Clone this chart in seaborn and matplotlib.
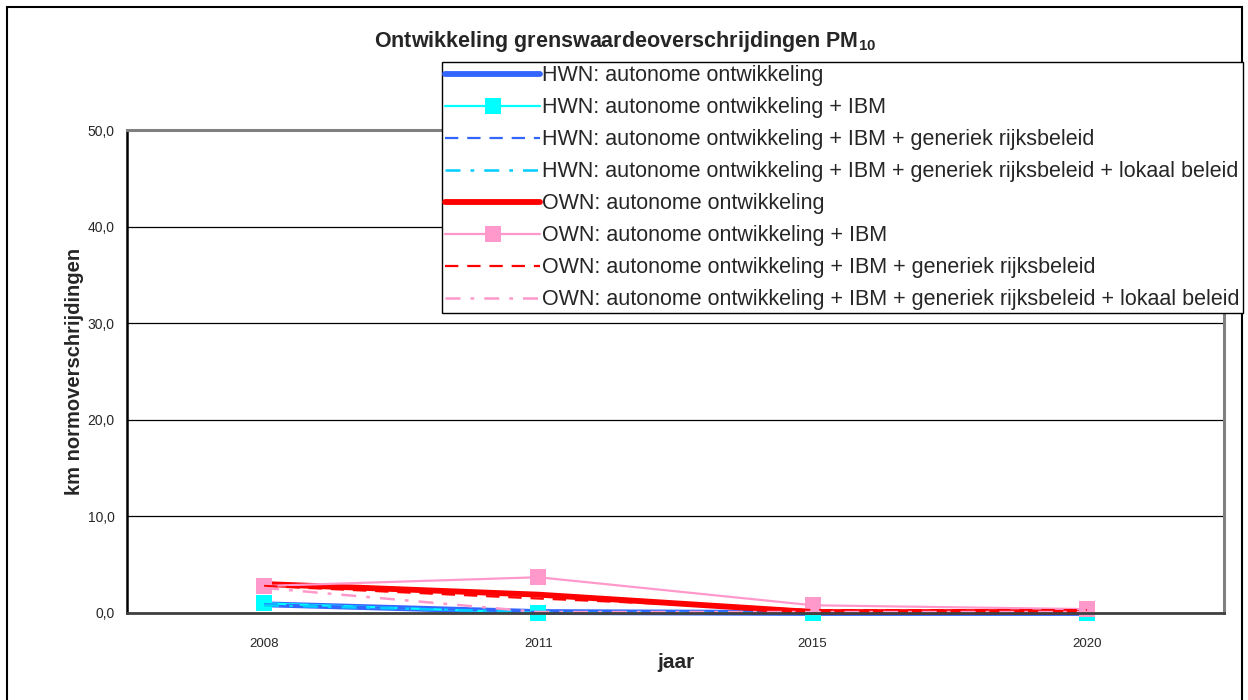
import matplotlib
matplotlib.use("Agg")
import matplotlib.pyplot as plt
from matplotlib.patches import Rectangle
import seaborn as sns
import pandas as pd

years = ["2008", "2011", "2015", "2020"]

hwn_auto = [0.9, 0.1, 0.0, 0.0]
hwn_ibm = [1.0, 0.0, 0.0, 0.0]
hwn_rijk = [0.9, 0.1, 0.0, 0.0]
hwn_lokaal = [0.8, 0.1, 0.0, 0.0]
own_auto = [3.0, 1.9, 0.1, 0.1]
own_ibm = [2.8, 3.7, 0.8, 0.4]
own_rijk = [2.8, 1.5, 0.3, 0.3]
own_lokaal = [2.6, 0.1, 0.1, 0.1]

labels = [
    "HWN: autonome ontwikkeling",
    "HWN: autonome ontwikkeling + IBM",
    "HWN: autonome ontwikkeling + IBM + generiek rijksbeleid",
    "HWN: autonome ontwikkeling + IBM + generiek rijksbeleid + lokaal beleid",
    "OWN: autonome ontwikkeling",
    "OWN: autonome ontwikkeling + IBM",
    "OWN: autonome ontwikkeling + IBM + generiek rijksbeleid",
    "OWN: autonome ontwikkeling + IBM + generiek rijksbeleid + lokaal beleid",
]
series = [hwn_auto, hwn_ibm, hwn_rijk, hwn_lokaal, own_auto, own_ibm, own_rijk, own_lokaal]

styles = [
    dict(color="#3366FF", lw=4.2, ls="-", marker=None),
    dict(color="#00FFFF", lw=1.6, ls="-", marker="s"),
    dict(color="#3366FF", lw=1.6, ls=(0, (6, 4)), marker=None),
    dict(color="#00CCFF", lw=1.8, ls=(0, (6, 4, 1.5, 4)), marker=None),
    dict(color="#FF0000", lw=4.2, ls="-", marker=None),
    dict(color="#FF99CC", lw=1.6, ls="-", marker="s"),
    dict(color="#FF0000", lw=1.6, ls=(0, (6, 4)), marker=None),
    dict(color="#FF99CC", lw=1.8, ls=(0, (6, 4, 1.5, 4)), marker=None),
]

sns.set_theme(style="white")
plt.rcParams["font.family"] = ["Liberation Sans", "DejaVu Sans"]
plt.rcParams["mathtext.fontset"] = "custom"
plt.rcParams["mathtext.rm"] = "Liberation Sans"
plt.rcParams["mathtext.bf"] = "Liberation Sans:bold"

fig = plt.figure(figsize=(12.48, 7.0), dpi=100)
fig.patch.set_facecolor("white")
fig.patches.append(Rectangle((7 / 1248, -0.01), 1235 / 1248, 1 - 7 / 700 + 0.01,
                             transform=fig.transFigure, fill=False,
                             edgecolor="black", lw=1.5, zorder=0))

ax = fig.add_axes([127 / 1248, 1 - 613 / 700, 1097 / 1248, 483 / 700])
ax.set_facecolor("white")

pos = list(range(len(years)))
for lab, vals, st in zip(labels, series, styles):
    df = pd.DataFrame({"x": pos, "y": vals})
    sns.lineplot(data=df, x="x", y="y", ax=ax, color=st["color"], lw=st["lw"],
                 linestyle=st["ls"], marker=st["marker"], markersize=11,
                 markeredgewidth=0, label=lab, legend=False, clip_on=False)

ax.set_xlim(-0.5, 3.5)
ax.set_ylim(0, 50)
ax.set_yticks([0, 10, 20, 30, 40, 50])
ax.set_yticklabels(["0,0", "10,0", "20,0", "30,0", "40,0", "50,0"], fontsize=10)
ax.set_xticks(pos)
ax.set_xticklabels(years, fontsize=9.5)
ax.set_xticks([0.5, 1.5, 2.5], minor=True)
ax.tick_params(axis="x", which="major", length=0, pad=18)
ax.tick_params(axis="x", which="minor", length=4, width=1, color="black", direction="out")
ax.tick_params(axis="y", which="major", length=5, width=1, color="black", direction="out", pad=4)
ax.yaxis.grid(True, color="black", lw=0.9)
ax.set_axisbelow(True)

ax.spines["left"].set_color("black")
ax.spines["left"].set_linewidth(1.8)
ax.spines["bottom"].set_color("#404040")
ax.spines["bottom"].set_linewidth(2.0)
ax.spines["top"].set_color("#808080")
ax.spines["top"].set_linewidth(2.2)
ax.spines["right"].set_color("#808080")
ax.spines["right"].set_linewidth(2.2)

ax.set_xlabel("jaar", fontsize=15, fontweight="bold")
ax.set_ylabel("km normoverschrijdingen", fontsize=14.5, fontweight="bold")
ax.xaxis.set_label_coords(0.5, -(663 - 613) / 483, transform=ax.transAxes)
ax.yaxis.set_label_coords(-(127 - 75) / 1097, 0.5)
ax.xaxis.label.set_va("center")
ax.yaxis.label.set_va("center")

fig.text(625 / 1248, 1 - 42 / 700, r"Ontwikkeling grenswaardeoverschrijdingen PM$_{\mathbf{10}}$",
         ha="center", va="center", fontsize=15.5, fontweight="bold")

handles, hlabels = ax.get_legend_handles_labels()
leg = fig.legend(handles, hlabels, loc="upper right",
                 bbox_to_anchor=(1243 / 1248, 1 - 62 / 700), fontsize=15.5,
                 frameon=True, fancybox=False, edgecolor="black", framealpha=1,
                 handlelength=4.4, handletextpad=0.1, labelspacing=0.51,
                 borderpad=0.15, borderaxespad=0, markerscale=1.0)
leg.get_frame().set_linewidth(1.0)
leg.set_zorder(5)

fig.savefig("out.png", dpi=100, facecolor="white")
